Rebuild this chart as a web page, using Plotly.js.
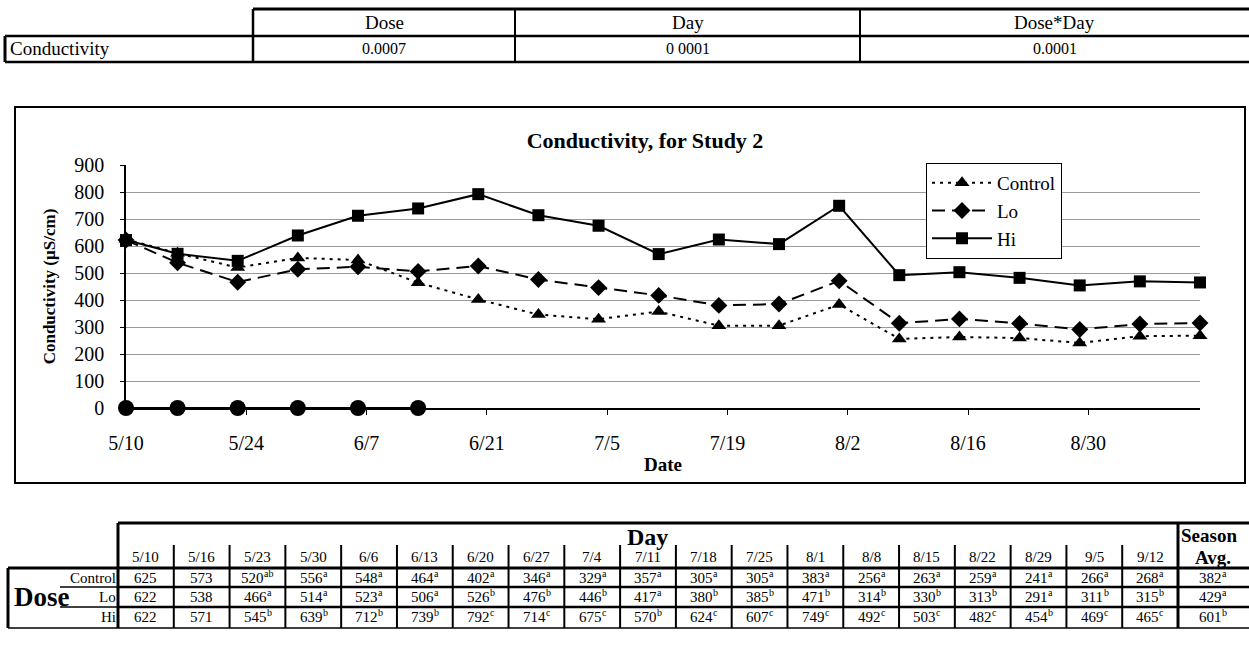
<!DOCTYPE html>
<html>
<head>
<meta charset="utf-8">
<script src="https://cdn.plot.ly/plotly-3.0.1.min.js"></script>
<style>html,body{margin:0;padding:0;background:#fff;}#chart{width:1249px;height:662px;}</style>
</head>
<body>
<div id="chart"></div>
<script>
// ---------- DATA ----------
const year = 2001;
const dayLabels = ['5/10','5/16','5/23','5/30','6/6','6/13','6/20','6/27','7/4','7/11','7/18','7/25','8/1','8/8','8/15','8/22','8/29','9/5','9/12'];
const control = [625,573,520,556,548,464,402,346,329,357,305,305,383,256,263,259,241,266,268];
const controlSig = ['','','ab','a','a','a','a','a','a','a','a','a','a','a','a','a','a','a','a'];
const lo = [622,538,466,514,523,506,526,476,446,417,380,385,471,314,330,313,291,311,315];
const loSig = ['','','a','a','a','a','b','b','b','a','b','b','b','b','b','b','a','b','b'];
const hi = [622,571,545,639,712,739,792,714,675,570,624,607,749,492,503,482,454,469,465];
const hiSig = ['','','b','b','b','b','c','c','c','b','c','c','c','c','c','c','b','c','c'];
const seriesNames = ['Control','Lo','Hi'];
const seasonAvg = [382,429,601];
const seasonSig = ['a','a','b'];
const doseDayLabels = ['5/10','5/16','5/23','5/30','6/6','6/13'];
const doseDayValues = [0,0,0,0,0,0];
const effectNames = ['Dose','Day','Dose*Day'];
const effectPValues = ['0.0007','0 0001','0.0001'];
const effectRowLabel = 'Conductivity';

// ---------- HELPERS ----------
const W = 1249, H = 662;
const F = 'Liberation Serif, serif';
function toISO(lbl){ const [m,d] = lbl.split('/'); return year + '-' + String(m).padStart(2,'0') + '-' + String(d).padStart(2,'0'); }
const xDates = dayLabels.map(toISO);
const shapes = [], annotations = [];
function hline(x0,x1,y,w){ shapes.push({type:'line',xref:'paper',yref:'paper',x0:x0/W,x1:x1/W,y0:1-y/H,y1:1-y/H,line:{color:'black',width:w}}); }
function vline(x,y0,y1,w){ shapes.push({type:'line',xref:'paper',yref:'paper',x0:x/W,x1:x/W,y0:1-y0/H,y1:1-y1/H,line:{color:'black',width:w}}); }
function txt(x,y,t,size,anchor,bold){ annotations.push({xref:'paper',yref:'paper',x:x/W,y:1-y/H,text:bold?'<b>'+t+'</b>':t,showarrow:false,borderpad:0,borderwidth:0,xanchor:anchor||'center',yanchor:'middle',font:{family:F,size:size,color:'black'}}); }
// number with a superscript letter group, centred as a whole on cx
function numSup(cx,y,num,sup,size){
  const s = String(num);
  if(!sup){ txt(cx,y,s,size); return; }
  const supSize = Math.round(size*0.64);
  const w = s.length*size*0.5, sw = sup.length*supSize*0.48;
  const x0 = cx-(w+sw)/2;
  txt(x0,y,s,size,'left');
  txt(x0+w+0.5,y-5,sup,supSize,'left');
}

// ---------- TOP TABLE ----------
const topCols = [253,515,860,1249];
hline(253,1249,9,3); hline(5,1249,36,2.5); hline(5,1249,62,2.5);
vline(5,36,62,3);
topCols.slice(0,3).forEach((x,i)=>vline(x,9,62,i===0?2.5:2));
txt(10,49,effectRowLabel,19,'left');
effectNames.forEach((n,i)=>{
  const cx=(topCols[i]+topCols[i+1])/2;
  txt(cx,22,n,19);
  txt(cx,49,effectPValues[i],16);
});

// ---------- CHART BOX ----------
shapes.push({type:'rect',xref:'paper',yref:'paper',x0:15/W,x1:1245/W,y0:1-107/H,y1:1-483/H,line:{color:'black',width:2}});

// ---------- BOTTOM TABLE ----------
const tL = 118, sL = 1178, colW = (sL-tL)/dayLabels.length;
const rowY = [578,597,617];
hline(tL,1249,523,3);
vline(tL,523,628,3);
vline(sL,523,628,3);
for(let i=1;i<dayLabels.length;i++) vline(tL+i*colW,545,628,2);
hline(8,1249,568,3);
hline(tL,1249,587,2.5);
hline(tL,1249,607,2.5);
hline(8,1249,628,1.5);
vline(8,568,628,3);
hline(60,tL,587,1.5);
hline(60,tL,607,1.5);
txt((tL+sL)/2,537,'Day',24,'center',true);
txt(1181,535,'Season',19,'left',true);
txt(1213,557,'Avg.',19,'center',true);
dayLabels.forEach((d,i)=>txt(tL+(i+0.5)*colW,557,d,15));
const tableRows = [[control,controlSig],[lo,loSig],[hi,hiSig]];
tableRows.forEach(([vals,sig],r)=>{
  vals.forEach((v,i)=>numSup(tL+(i+0.5)*colW,rowY[r],v,sig[i],15));
  numSup(1213,rowY[r],seasonAvg[r],seasonSig[r],15);
  txt(116,rowY[r],seriesNames[r],15,'right');
});
txt(42,597,'Dose',27,'center',true);

// ---------- TRACES ----------
const traces = [
  {x:xDates,y:control,name:seriesNames[0],type:'scatter',mode:'lines+markers',cliponaxis:false,
   line:{color:'black',width:2,dash:'3px,5px'},marker:{symbol:'triangle-up',size:13,color:'black'}},
  {x:xDates,y:lo,name:seriesNames[1],type:'scatter',mode:'lines+markers',cliponaxis:false,
   line:{color:'black',width:2,dash:'13px,7px'},marker:{symbol:'diamond',size:13,color:'black'}},
  {x:xDates,y:hi,name:seriesNames[2],type:'scatter',mode:'lines+markers',cliponaxis:false,
   line:{color:'black',width:2},marker:{symbol:'square',size:12,color:'black'}},
  {x:doseDayLabels.map(toISO),y:doseDayValues,name:'Dose days',showlegend:false,type:'scatter',mode:'lines+markers',cliponaxis:false,
   line:{color:'black',width:2},marker:{symbol:'circle',size:16,color:'black'}}
];

const layout = {
  width:W,height:H,margin:{l:0,r:0,t:0,b:0},
  paper_bgcolor:'white',plot_bgcolor:'white',
  font:{family:F,color:'black'},
  title:{text:'<b>Conductivity, for Study 2</b>',font:{family:F,size:22,color:'black'},x:645/W,xanchor:'center',xref:'paper',y:1-140/H,yanchor:'middle',yref:'paper'},
  xaxis:{type:'date',domain:[126/W,1200/W],range:[toISO('5/10'),toISO('9/12')],
    tick0:toISO('5/10'),dtick:14*86400000,tickformat:'%-m/%-d',
    ticks:'outside',ticklen:5,tickcolor:'black',showline:true,linecolor:'black',linewidth:1.5,
    showgrid:false,zeroline:false,tickfont:{family:F,size:20,color:'black'},ticklabelstandoff:11,
    title:{text:'<b>Date</b>',font:{family:F,size:19,color:'black'},standoff:5}},
  yaxis:{domain:[1-408/H,1-165/H],range:[0,900],dtick:100,
    ticks:'outside',ticklen:4,tickcolor:'black',showline:true,linecolor:'black',linewidth:1.5,
    showgrid:true,gridcolor:'#999999',gridwidth:1,zeroline:false,
    tickfont:{family:F,size:20,color:'black'},ticklabelstandoff:12,
    title:{text:'<b>Conductivity (µS/cm)</b>',font:{family:F,size:17,color:'black'},standoff:14}},
  legend:{x:926/W,y:1-163/H,xanchor:'left',yanchor:'top',bgcolor:'white',bordercolor:'black',borderwidth:1,
    font:{family:F,size:19,color:'black'},itemwidth:60,tracegroupgap:0},
  showlegend:true,
  shapes:shapes,annotations:annotations
};
Plotly.newPlot('chart',traces,layout,{displayModeBar:false});
</script>
</body>
</html>
